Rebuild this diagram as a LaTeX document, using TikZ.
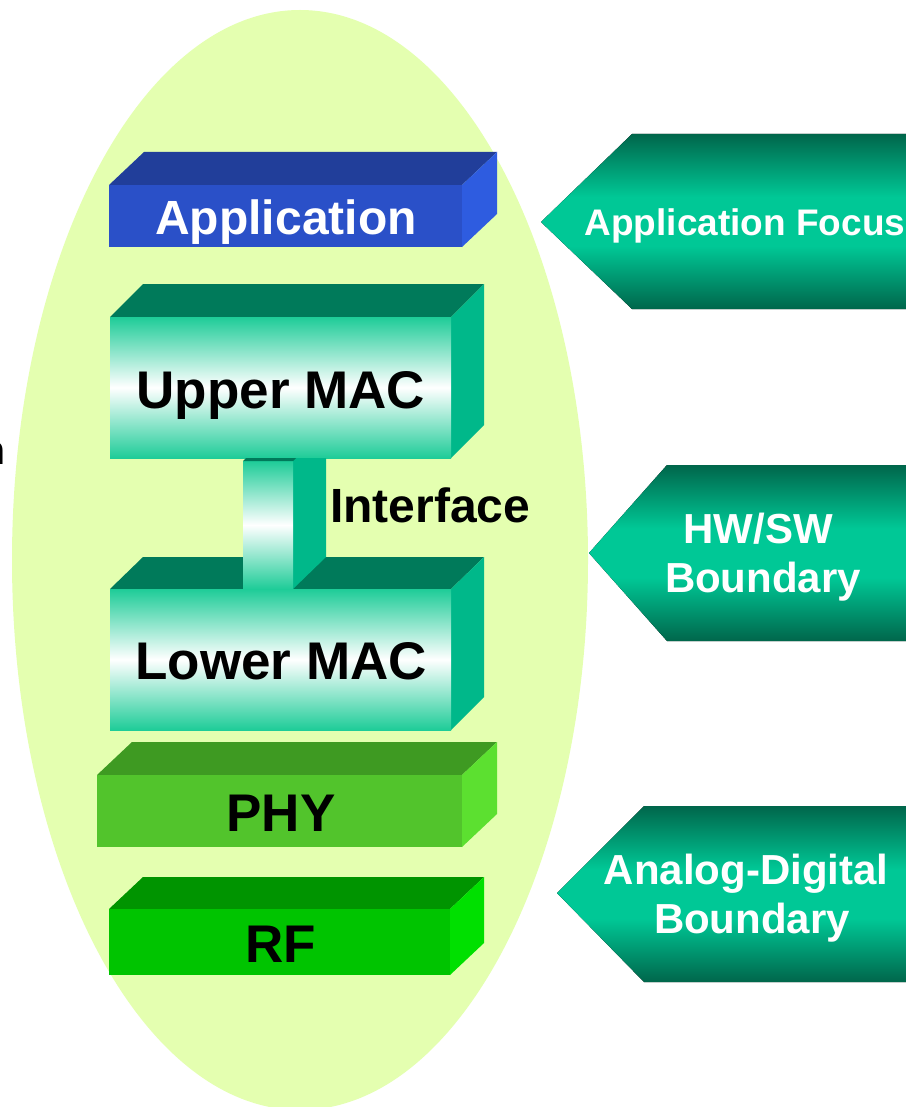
\documentclass[tikz,border=0pt]{standalone}
\usepackage{fontspec}
\setmainfont{Liberation Sans}
\definecolor{ellfill}{HTML}{E4FFB0}
\definecolor{appfront}{HTML}{2A50C8}
\definecolor{apptop}{HTML}{213E9A}
\definecolor{appright}{HTML}{2E5CE0}
\definecolor{macg}{HTML}{1ECC98}
\definecolor{mactop}{HTML}{007A5A}
\definecolor{macright}{HTML}{00B88A}
\definecolor{phyfront}{HTML}{52C42C}
\definecolor{phytop}{HTML}{3E9A22}
\definecolor{phyright}{HTML}{5CE030}
\definecolor{rffront}{HTML}{00C400}
\definecolor{rftop}{HTML}{009400}
\definecolor{rfright}{HTML}{00E000}
\definecolor{adark}{HTML}{00664B}
\definecolor{abright}{HTML}{00C896}
\pgfdeclareverticalshading{arrowshade}{100bp}{color(0bp)=(adark); color(25bp)=(adark); color(43bp)=(abright); color(57bp)=(abright); color(75bp)=(adark); color(100bp)=(adark)}
% #1 x1, #2 y1 (front top), #3 x2, #4 y2 (front bottom), #5 dx, #6 dy, #7 top colour, #8 right colour
\newcommand\layerbox[8]{%
  \fill[#7] (#1,#2) -- (#1+#5,#2-#6) -- (#3+#5,#2-#6) -- (#3,#2) -- cycle;
  \fill[#8] (#3,#2) -- (#3+#5,#2-#6) -- (#3+#5,#4-#6) -- (#3,#4) -- cycle;
}
\begin{document}
\begin{tikzpicture}[x=1pt,y=-1pt,
  lbl/.style={font=\fontsize{53}{57}\selectfont\bfseries, inner sep=0, anchor=base},
  albl/.style={font=\fontsize{42}{46}\selectfont\bfseries, text=white, inner sep=0, anchor=base},
  macface/.style={top color=macg, bottom color=macg, middle color=white},
  arrowbox/.style={shading=arrowshade}]
\useasboundingbox (0,0) rectangle (905,1107);
\fill[white] (0,0) rectangle (905,1107);
% background ellipse
\fill[ellfill] (300,560) ellipse [x radius=288, y radius=550];
% arrows
\fill[arrowbox] (541,222) -- (632,134) -- (910,134) -- (910,309) -- (632,309) -- cycle;
\fill[arrowbox] (589,553) -- (667,465) -- (910,465) -- (910,641) -- (667,641) -- cycle;
\fill[arrowbox] (557,893) -- (644,806) -- (910,806) -- (910,982) -- (644,982) -- cycle;
% Application
\layerbox{109}{185}{462}{247}{35}{33}{apptop}{appright}
\fill[appfront] (109,185) rectangle (462,247);
% Upper MAC
\layerbox{110}{317}{451}{458}{33}{33}{mactop}{macright}
\shade[macface] (110,317) rectangle (451,458);
% Lower MAC top face
\fill[mactop] (110,589) -- (143,557) -- (484,557) -- (451,589) -- cycle;
% interface connector
\fill[macright] (293,458) -- (326,458) -- (326,557) -- (293,589) -- cycle;
\shade[macface] (243,461) rectangle (293,589);
\fill[mactop] (243,461) -- (246,458) -- (296,458) -- (293,461) -- cycle;
% Lower MAC
\fill[macright] (451,589) -- (484,557) -- (484,697) -- (451,730) -- cycle;
\shade[macface] (110,589) rectangle (451,730);
% PHY
\layerbox{97}{775}{462}{847}{35}{33}{phytop}{phyright}
\fill[phyfront] (97,775) rectangle (462,847);
% RF
\layerbox{109}{909}{450}{975}{34}{32}{rftop}{rfright}
\fill[rffront] (109,909) rectangle (450,975);
% labels
\node[lbl, text=white, font=\fontsize{48}{52}\selectfont\bfseries] (app) at (286,235) {Application};
\node[lbl] (upper) at (281,408) {Upper MAC};
\node[lbl] (lower) at (281,679) {Lower MAC};
\node[lbl, font=\fontsize{48}{52}\selectfont\bfseries, anchor=base west] (iface) at (330,522) {Interface};
\node[lbl] (phy) at (281,831) {PHY};
\node[lbl] (rf) at (281,962) {RF};
\node[albl, font=\fontsize{37}{40}\selectfont\bfseries] (focus) at (745,236) {Application Focus};
\node[albl] (hwsw) at (758,543) {HW/SW};
\node[albl] (hwb) at (763,592) {Boundary};
\node[albl] (ad) at (746,884) {Analog-Digital};
\node[albl] (adb) at (752,933) {Boundary};
\node[lbl, font=\fontsize{41}{45}\selectfont\bfseries, anchor=base east] (cut) at (5.5,464) {n};
\end{tikzpicture}
\end{document}
